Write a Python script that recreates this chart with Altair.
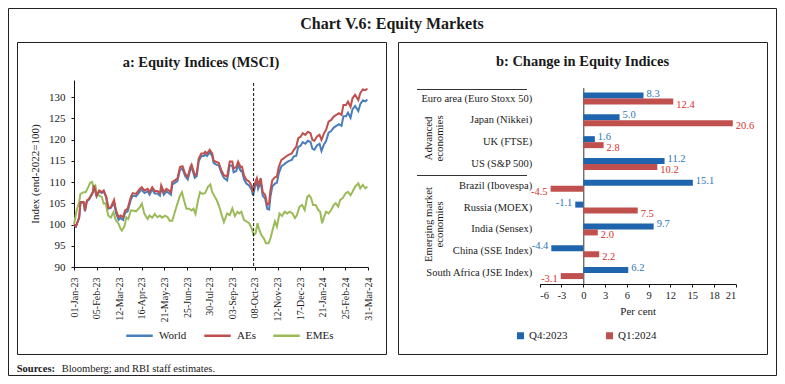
import altair as alt
import pandas as pd

FONT = "Liberation Serif"

# ---------------- Panel a: Equity Indices (MSCI) ----------------
start_date = "2023-01-01"
ae_days = [0, 3, 8, 10, 15, 17, 20, 23, 29, 31, 35, 39, 43, 46, 50, 53, 57, 62, 65, 69,
           72, 76, 79, 83, 88, 91, 96, 102, 105, 109, 114, 117, 121, 125, 129, 133, 135, 139, 143, 147,
           150, 152, 156, 160, 164, 168, 172, 176, 180, 182, 187, 190, 193, 197, 201, 203, 206, 210, 214, 216,
           220, 224, 228, 232,
           237, 241, 245, 247, 251, 254, 258, 260, 263, 267, 271, 275, 277, 280, 283, 285, 289, 292, 296, 299,
           302, 304, 307, 311, 314, 317, 321, 325, 328, 332, 337, 340, 344, 347, 351, 354, 358, 362, 366, 369,
           372, 376, 380, 383, 387, 390, 394, 398, 402, 406, 410, 414, 417, 421, 424, 428, 431, 435, 440, 443,
           447, 451, 454]
ae_vals = [100, 99.6, 101.7, 105.3, 105.3, 103.3, 105.7, 106, 107.6, 109.2, 106.8, 108, 107.6, 108, 106.5, 103.9, 104.1, 105.8, 103.3, 101.7,
           102.1, 101.7, 103.3, 103.7, 106.5, 107.4, 107.2, 108.4, 108.8, 108, 108.4, 107.6, 108.8, 107.9, 107.9, 107.4, 109.2, 107.6, 108.4, 108,
           107.6, 110, 110.4, 110.8, 113.5, 113.7, 112, 111.2, 113.5, 114.1, 111.6, 112, 115.5, 116.7, 116.7, 117.1, 116.7, 117.6, 116.7, 115.1,
           114.7, 114.5, 112.8, 111.6,
           111.3, 114.8, 114.8, 113.2, 113.5, 114.8, 113.5, 113.6, 111.6, 110.5, 110.1, 109.1, 107.7, 109.7, 110.9, 109.3, 110.9, 107.7, 106.9, 104.6,
           105, 108.1, 110.5, 111.1, 111.3, 113.6, 115.2, 115.6, 116, 116.4, 116.7, 117.5, 118.3, 120.3, 120.7, 121.5, 121.1, 121.8, 121.5, 119.9,
           119.7, 120.7, 121.1, 119.9, 121.5, 122.2, 124.2, 124.6, 125.4, 125.8, 126.2, 125.8, 128.1, 128.1, 128.9, 127.7, 129.7, 130.5, 129.3, 130.9,
           131.8, 131.6, 132.0]
world_vals = [100, 99.5, 101.5, 105.1, 105.1, 103.1, 105.5, 105.8, 107.4, 109.0, 106.6, 107.8, 107.4, 107.8, 106.3, 103.7, 103.9,
              105.2, 102.7, 101.1, 101.5, 101.1, 102.7, 103.1, 105.9, 106.8, 106.6,
              107.8, 108.2, 107.4, 107.8, 107.0, 108.2, 107.3, 107.3, 106.8, 108.6,
              107.0, 107.8, 107.4, 107.0, 109.4, 109.8, 110.2, 112.9, 113.1, 111.4,
              110.6, 112.9, 113.5, 111.0, 111.4, 114.9, 116.1, 116.1, 116.5, 116.1,
              117.0, 116.1, 114.5, 114.1, 113.9, 112.2, 111.0,
              110.4, 113.9, 113.9, 112.3, 112.6, 113.9, 112.6, 112.7, 110.7, 109.6,
              109.2, 108.2, 106.8, 108.8, 110.0, 108.4, 110.0, 106.8, 106.0, 103.7,
              103.5, 106.6, 109.0, 109.6, 109.8, 112.1, 113.7, 114.1, 114.5, 114.9, 115.2, 116.0,
              116.2, 118.2, 118.6, 119.4, 119.0, 119.7, 119.4, 117.8, 117.6, 118.6, 119.0,
              117.3, 118.9, 119.6, 121.6, 122.0, 122.8, 123.2, 123.6, 123.2, 125.5,
              125.5, 126.3, 125.1, 127.1, 127.9, 126.7, 128.3, 129.2, 129.0, 129.4]
eme_days = [0, 4, 8, 10, 15, 18, 22, 25, 28, 30, 33, 35, 39, 43, 46, 49, 53, 57, 61, 65,
            69, 72, 74, 78, 81, 84, 88, 91, 96, 102, 105, 109, 114, 117, 121, 125, 129, 133, 136, 141,
            145, 148, 152, 156, 160, 164, 167, 171, 174, 178, 182, 185, 188, 192, 195, 199, 203, 207, 211, 214,
            218, 221, 225, 228, 232,
            237, 241, 245, 249, 253, 256, 259, 263, 267, 271, 275, 278, 281, 284, 286, 290, 294, 297, 301, 304,
            308, 311, 314, 318, 322, 326, 330, 334, 338, 342, 345, 349, 353, 357, 361, 364, 367, 370, 374, 378,
            381, 384, 387, 390, 394, 398, 402, 405, 409, 412, 416, 420, 424, 428, 431, 435, 440, 443, 447, 451,
            454]
eme_vals = [100, 103.3, 105.3, 107.2, 107.6, 107.6, 108.8, 109.8, 110, 108.8, 109.2, 107.6, 106.8, 106.5, 104.9, 105, 102.1, 101.6, 102.9, 100.9,
            100.2, 99, 98.6, 99.5, 101.7, 101.3, 103.3, 103.3, 103.1, 104.1, 104.9, 102.5, 101.3, 102.1, 101.6, 102.5, 101.7, 102.1, 101.6, 102.1,
            101.7, 100.9, 100.9, 102.9, 104.9, 106.8, 107.6, 105.3, 103.7, 103.7, 103.3, 103.7, 102.5, 105.7, 107.6, 107.2, 107.4, 108.8, 109.4, 107.6,
            106.5, 105.7, 104.1, 102.5, 100.6,
            102.6, 102.2, 103.8, 102, 103, 102.6, 103, 101.1, 100.7, 100.3, 99.1, 97.5, 97.9, 100.3, 99.1, 97.5, 96.7, 95.6, 95.6, 96.7,
            99.1, 100.7, 99.5, 102.6, 102, 103, 102.6, 103, 102.6, 101.5, 102.2, 104.2, 104.6, 103.4, 106.5, 106.9, 106.2, 104.6, 104.6, 103.4,
            103, 100.3, 101.8, 103, 102.6, 103.4, 104.6, 105, 104.2, 105.8, 106.2, 107.3, 107.7, 106.9, 107.7, 108.9, 109.7, 108.5, 109.3, 108.5,
            108.9]
vline_dates = ["2023-10-06"]
x_tick_dates = ["2023-01-01", "2023-02-05", "2023-03-12", "2023-04-16", "2023-05-21", "2023-06-25",
                "2023-07-30", "2023-09-03", "2023-10-08", "2023-11-12", "2023-12-17", "2024-01-21",
                "2024-02-25", "2024-03-31"]
y_ticks = [90, 95, 100, 105, 110, 115, 120, 125, 130]
series_names = ["World", "AEs", "EMEs"]
series_colors = ["#4A7EBB", "#C0504D", "#9BBB59"]

# ---------------- Panel b: Change in Equity Indices ----------------
countries = ["Euro area (Euro Stoxx 50)", "Japan (Nikkei)", "UK (FTSE)", "US (S&P 500)",
             "Brazil (Ibovespa)", "Russia (MOEX)", "India (Sensex)", "China (SSE Index)",
             "South Africa (JSE Index)"]
q4_vals = [8.3, 5.0, 1.6, 11.2, 15.1, -1.1, 9.7, -4.4, 6.2]
q1_vals = [12.4, 20.6, 2.8, 10.2, -4.5, 7.5, 2.0, 2.2, -3.1]
bar_series = ["Q4:2023", "Q1:2024"]
bar_colors = ["#1F65AE", "#C0504D"]
label_colors = ["#2E75B6", "#D9302C"]
x_ticks_b = [-6, -3, 0, 3, 6, 9, 12, 15, 18, 21]

# ---------------- Texts ----------------
main_title = ["Chart V.6: Equity Markets"]
panel_titles = ["a: Equity Indices (MSCI)", "b: Change in Equity Indices"]
group_labels = ["Advanced\neconomies", "Emerging market\neconomies"]
source_bold = ["Sources:"]
source_text = ["Bloomberg; and RBI staff estimates."]

# ---------------- Build data tables ----------------
base = pd.Timestamp(start_date)


def to_dates(days):
    return [base + pd.Timedelta(days=d) for d in days]


def dt(s):
    t = pd.Timestamp(s)
    return alt.DateTime(year=t.year, month=t.month, date=t.day)


lines_df = pd.concat([
    pd.DataFrame({"date": to_dates(ae_days), "value": world_vals, "series": "World"}),
    pd.DataFrame({"date": to_dates(eme_days), "value": eme_vals, "series": "EMEs"}),
    pd.DataFrame({"date": to_dates(ae_days), "value": ae_vals, "series": "AEs"}),
], ignore_index=True)

bar_df = pd.DataFrame({
    "country": countries * 2,
    "series": [s for s in bar_series for _ in countries],
    "value": q4_vals + q1_vals,
})
bar_df["label"] = [f"{v:.1f}" for v in bar_df["value"]]

one = pd.DataFrame({"k": [0]})
HYPHEN = "replace(datum.label, '\u2212', '-')"

# ---------------- Panel a chart ----------------
lines = alt.Chart(lines_df).mark_line(strokeWidth=2).encode(
    x=alt.X("date:T",
            scale=alt.Scale(domain=[dt(x_tick_dates[0]), dt(x_tick_dates[-1])], range=[66, 360]),
            axis=alt.Axis(orient="bottom", offset=-109, values=[dt(s) for s in x_tick_dates],
                          format="%d-%b-%y", labelAngle=-90, tickSize=3, labelPadding=7,
                          title=None, labelFontSize=10, grid=False)),
    y=alt.Y("value:Q",
            scale=alt.Scale(domain=[90, 134], range=[259, 72], nice=False, zero=False),
            axis=alt.Axis(orient="left", offset=-66, values=y_ticks, tickSize=3, labelPadding=6,
                          title="Index (end-2022=100)", titlePadding=8, labelFontSize=11,
                          titleFontSize=11, grid=False)),
    color=alt.Color("series:N", scale=alt.Scale(domain=series_names, range=series_colors),
                    legend=alt.Legend(orient="none", legendX=117, legendY=313, direction="horizontal",
                                      title=None, symbolType="stroke", symbolSize=700,
                                      symbolStrokeWidth=2.5, labelFontSize=11, labelOffset=5,
                                      columnPadding=12, padding=0)),
)

vline = alt.Chart(pd.DataFrame({"date": pd.to_datetime(vline_dates)})).mark_rule(
    color="#111", strokeWidth=1, strokeDash=[3, 2]
).encode(
    x=alt.X("date:T"),
    y=alt.value(75),
    y2=alt.value(259),
)

left = alt.layer(lines, vline)

# ---------------- Panel b chart ----------------
y_enc = alt.Y("country:N", sort=countries,
              scale=alt.Scale(range=[79.6, 276], paddingInner=0.45, paddingOuter=0.225),
              axis=alt.Axis(orient="left", offset=-575.3, ticks=False, labelPadding=51.6,
                            title=None, labelFontSize=10.5, labelLimit=250, domainColor="#333"))
x_enc = alt.X("value:Q", scale=alt.Scale(domain=[-6, 21], range=[531.7, 727.7], nice=False, zero=False),
              axis=alt.Axis(orient="bottom", offset=-92, values=x_ticks_b, tickSize=3, labelPadding=3,
                            title="Per cent", titlePadding=5, labelFontSize=10.5, titleFontSize=11,
                            grid=False, labelExpr=HYPHEN))
yoff = alt.YOffset("series:N", sort=bar_series)

bars = alt.Chart(bar_df).mark_bar().encode(
    y=y_enc, x=x_enc, yOffset=yoff,
    color=alt.Color("series:N", scale=alt.Scale(domain=bar_series, range=bar_colors),
                    legend=alt.Legend(orient="none", legendX=507, legendY=322, direction="horizontal",
                                      title=None, symbolType="square", symbolSize=49,
                                      symbolStrokeWidth=0, labelFontSize=11, labelOffset=3,
                                      columnPadding=36, padding=0)),
)


def value_labels(series, color, positive, dy):
    cond = "datum.value >= 0" if positive else "datum.value < 0"
    return alt.Chart(bar_df).transform_filter(
        f"datum.series == '{series}' && {cond}"
    ).mark_text(
        align="left" if positive else "right", dx=3 if positive else -3, dy=dy,
        baseline="middle", color=color, font=FONT, fontSize=10.5
    ).encode(
        y=alt.Y("country:N", sort=countries),
        x=alt.X("value:Q"),
        yOffset=yoff,
        text=alt.Text("label:N"),
    )


right = alt.layer(
    bars,
    value_labels(bar_series[0], label_colors[0], True, -2),
    value_labels(bar_series[0], label_colors[0], False, -2),
    value_labels(bar_series[1], label_colors[1], True, 3),
    value_labels(bar_series[1], label_colors[1], False, 3),
)

# ---------------- Decorations ----------------


def box(x1, x2, y1, y2, color="#222"):
    return alt.Chart(one).mark_rect(filled=False, stroke=color, strokeWidth=1).encode(
        x=alt.value(x1), x2=alt.value(x2), y=alt.value(y1), y2=alt.value(y2))


def hline(x1, x2, y):
    return alt.Chart(one).mark_rule(color="#333", strokeWidth=1).encode(
        x=alt.value(x1), x2=alt.value(x2), y=alt.value(y))


def text(s, x, y, size, bold=False, align="center", angle=0):
    return alt.Chart(pd.DataFrame({"t": [s]})).mark_text(
        font=FONT, fontSize=size, fontWeight="bold" if bold else "normal", align=align,
        baseline="middle", angle=angle, color="#1a1a1a", lineBreak="\n", lineHeight=11
    ).encode(x=alt.value(x), y=alt.value(y), text="t:N")


deco = [
    box(0.5, 768.5, 0.5, 367.5),
    box(9.5, 378.5, 34.5, 346.5),
    box(390.5, 759.5, 34.5, 346.5),
    hline(409, 519, 81.5),
    hline(409, 519, 167.5),
    text(main_title[0], 384, 16, 16, bold=True),
    text(panel_titles[0], 193, 55, 14.5, bold=True),
    text(panel_titles[1], 574.5, 54, 14.5, bold=True),
    text(group_labels[0], 420.5, 130.5, 10.8, angle=270),
    text(group_labels[1], 420.5, 216.5, 10.8, angle=270),
    text(source_bold[0], 8.7, 361, 10.5, bold=True, align="left"),
    text(source_text[0], 53.7, 361, 10.5, align="left"),
]

chart = alt.layer(*deco, left, right).resolve_scale(
    x="independent", y="independent", color="independent"
).properties(
    width=769, height=368, padding=0,
    autosize=alt.AutoSizeParams(type="none"),
).configure_view(
    stroke="transparent"
).configure_axis(
    labelFont=FONT, titleFont=FONT, domainColor="#111", tickColor="#111",
    labelColor="#1a1a1a", titleColor="#1a1a1a", titleFontWeight="normal", grid=False
).configure_legend(
    labelFont=FONT, labelColor="#1a1a1a"
)

chart.save("out.html", embed_options={"renderer": "svg", "actions": False})
